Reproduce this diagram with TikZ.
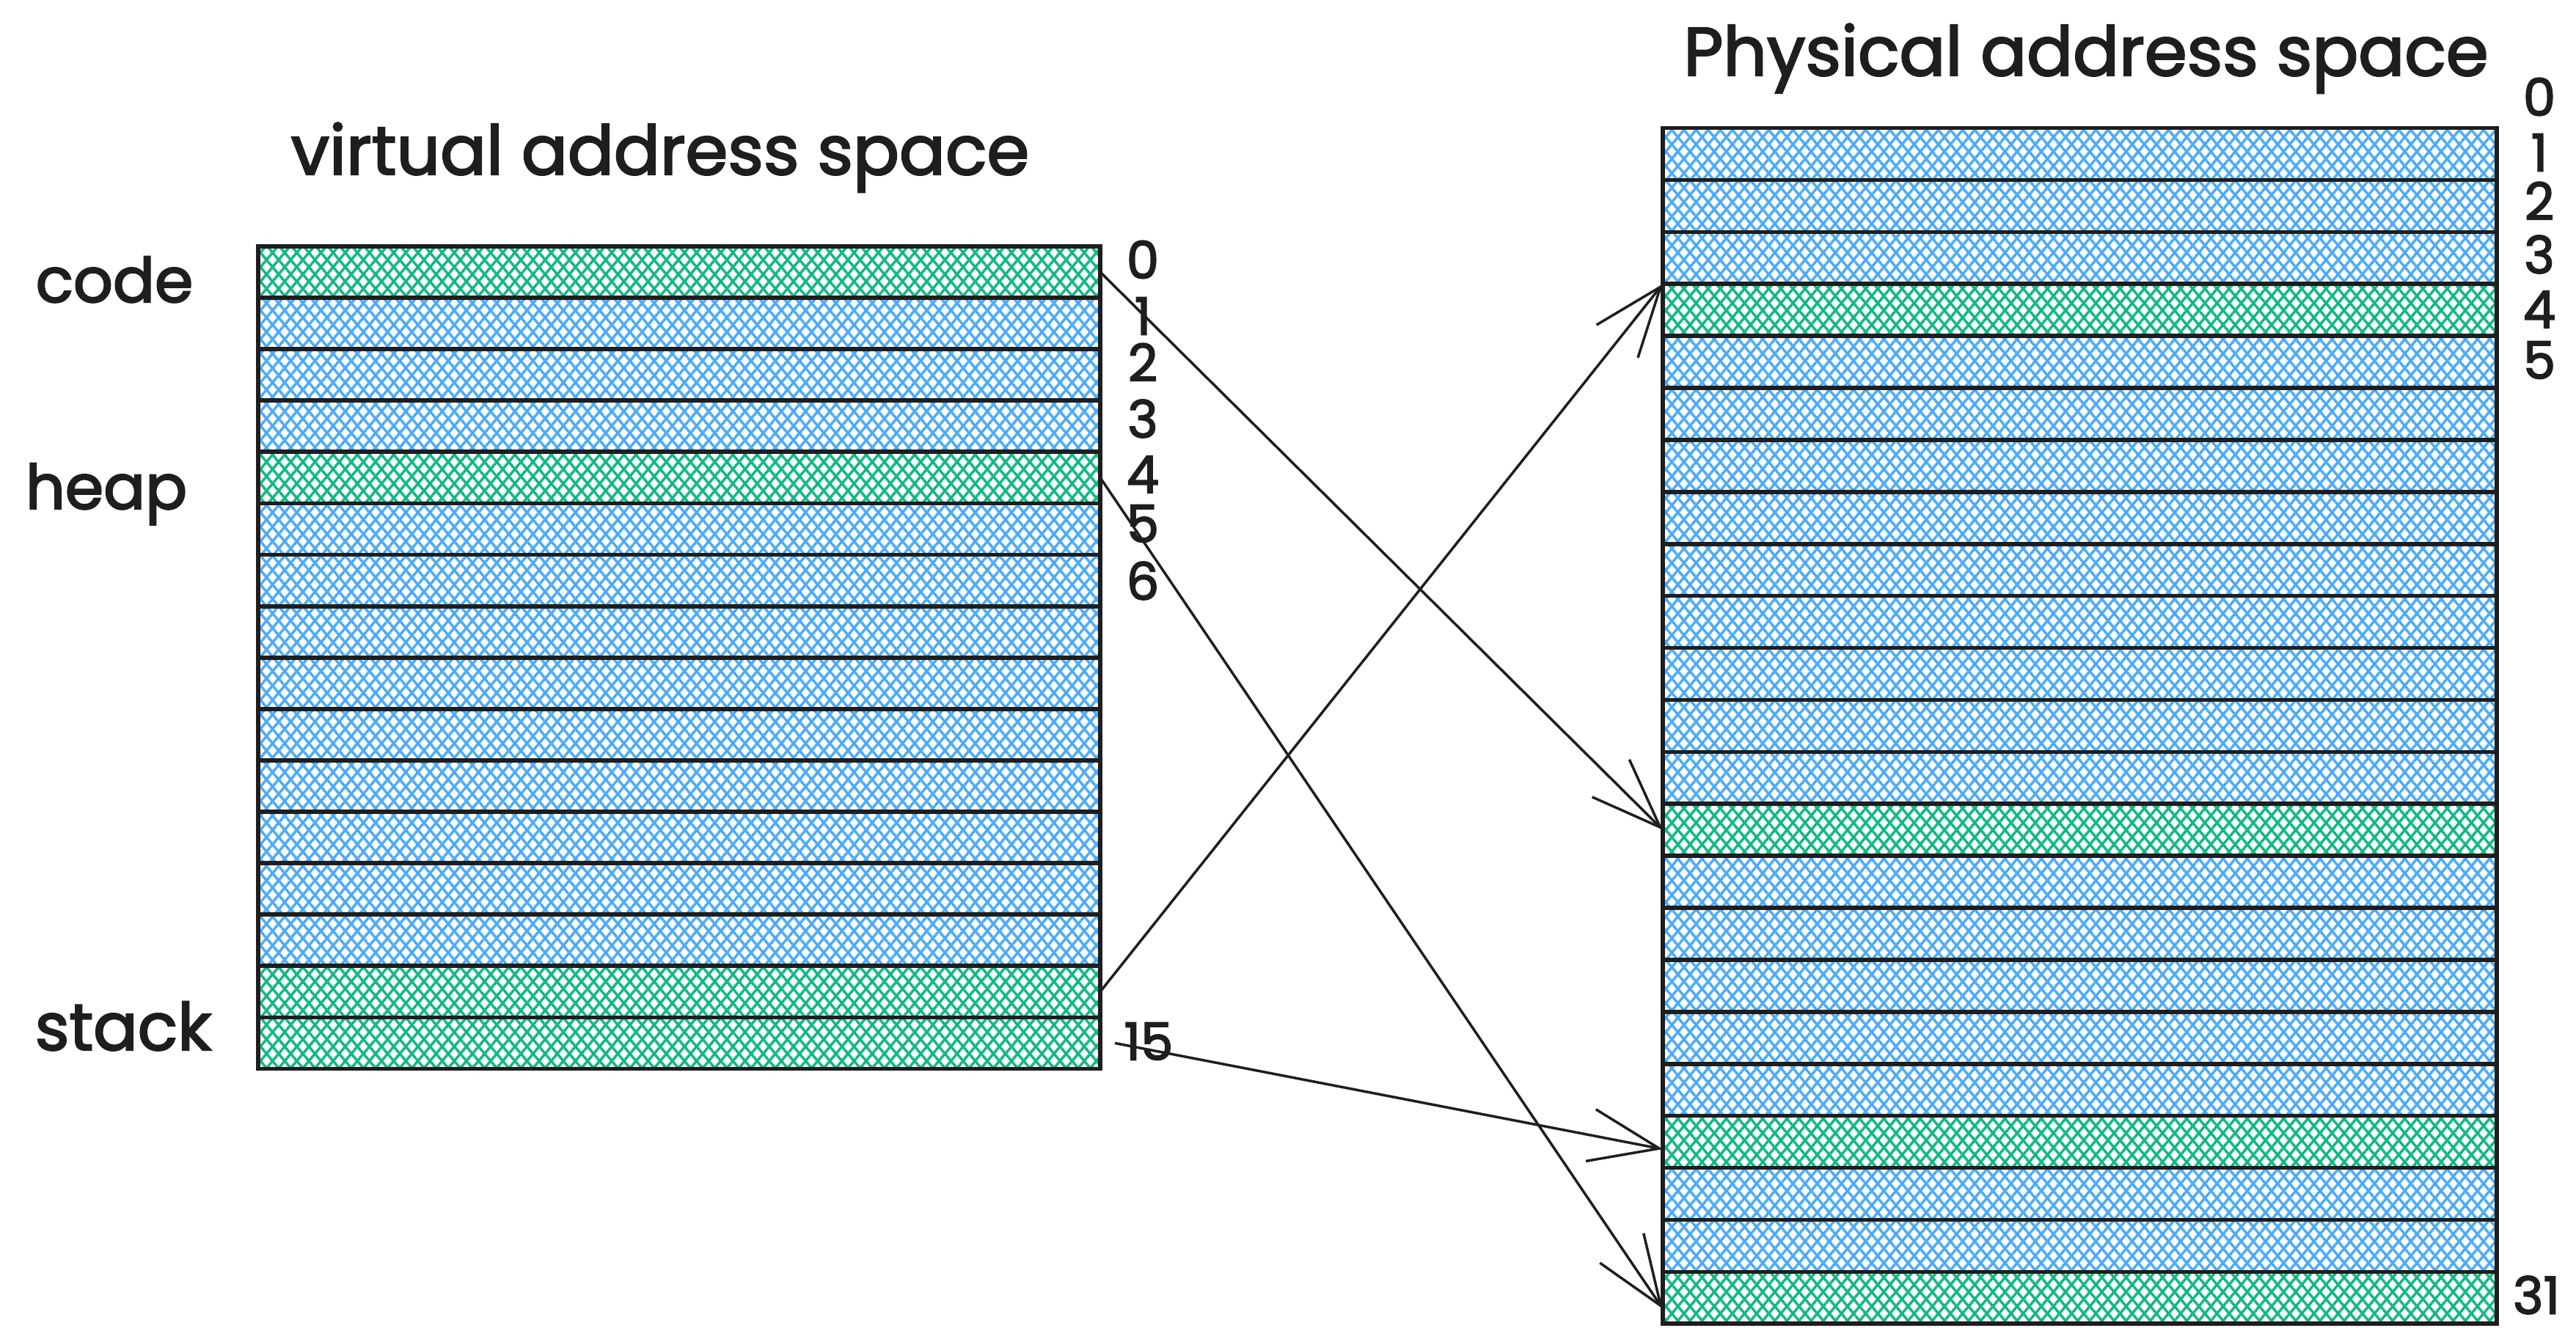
\documentclass[tikz,border=0pt]{standalone}
\usepackage{fontspec}
\setmainfont{Poppins}[FakeBold=2.5]
\usepackage{tikz}
\usetikzlibrary{arrows.meta, patterns.meta}

\definecolor{ink}{HTML}{1E1E1E}
\definecolor{hblue}{HTML}{4DABF7}
\definecolor{hgreen}{HTML}{12B886}

\tikzset{
  page/.style={draw=ink, line width=1.6pt, rectangle, inner sep=0pt, outer sep=0pt},
  hatch/.style={preaction={pattern={Lines[angle=50,distance=3.6pt,line width=1pt]}, pattern color=#1},
    pattern={Lines[angle=-50,distance=3.6pt,line width=1pt]}, pattern color=#1},
  lbl/.style={text=ink, font=\fontsize{24}{28}\selectfont, anchor=base},
  title/.style={lbl, font=\fontsize{26.5}{30}\selectfont},
  num/.style={text=ink, font=\fontsize{20}{22}\selectfont, inner sep=0pt},
  map/.style={draw=ink, line width=1pt, -{Straight Barb[length=0.95cm, width=0.72cm]}},
}

\begin{document}
\begin{tikzpicture}
    \useasboundingbox (0,0) rectangle (35.12,-18.11);
    % Titles
    \node[title] (vtitle) at (9.0,-2.38) {virtual address space};
    \node[title] (ptitle) at (28.44,-1.03) {Physical address space};
    % Virtual pages
    \foreach \c [count=\i from 0] in {hgreen,hblue,hblue,hblue,hgreen,hblue,hblue,hblue,
                                      hblue,hblue,hblue,hblue,hblue,hblue,hgreen,hgreen}
        \node[page, hatch=\c, minimum width=11.48cm, minimum height=0.70cm]
            (v\i) at (9.26,{-3.71-0.701*\i}) {};
    % Physical frames
    \foreach \c [count=\j from 0] in {hblue,hblue,hblue,hgreen,hblue,hblue,hblue,hblue,
                                      hblue,hblue,hblue,hblue,hblue,hgreen,hblue,hblue,
                                      hblue,hblue,hblue,hgreen,hblue,hblue,hgreen}
        \node[page, hatch=\c, minimum width=11.37cm, minimum height=0.709cm]
            (p\j) at (28.355,{-2.10-0.709*\j}) {};
    % Segment names
    \node[lbl] (lcode) at (1.56,-4.12) {code};
    \node[lbl] (lheap) at (1.45,-6.94) {heap};
    \node[lbl, font=\fontsize{25.5}{28}\selectfont] (lstack) at (1.68,-14.32) {stack};
    % Page numbers
    \foreach \n/\y in {0/3.54,1/4.31,2/4.94,3/5.71,4/6.47,5/7.14,6/7.92}
        \node[num] (vn\n) at (15.58,-\y) {\n};
    \node[num] (vn15) at (15.66,-14.20) {15};
    \foreach \n/\y in {0/1.32,1/2.08,2/2.74,3/3.47,4/4.22,5/4.91}
        \node[num] (pn\n) at (34.62,-\y) {\n};
    \node[num] (pn31) at (34.58,-17.66) {31};
    % Mappings
    \draw[map] (v0.east) -- (p13.west);
    \draw[map] (v4.east) -- ([yshift=-0.15cm]p22.west);
    \draw[map] (v14.east) -- (p3.north west);
    \draw[map] ([xshift=0.2cm]v15.east) -- ([yshift=-0.1cm]p19.west);
\end{tikzpicture}
\end{document}
